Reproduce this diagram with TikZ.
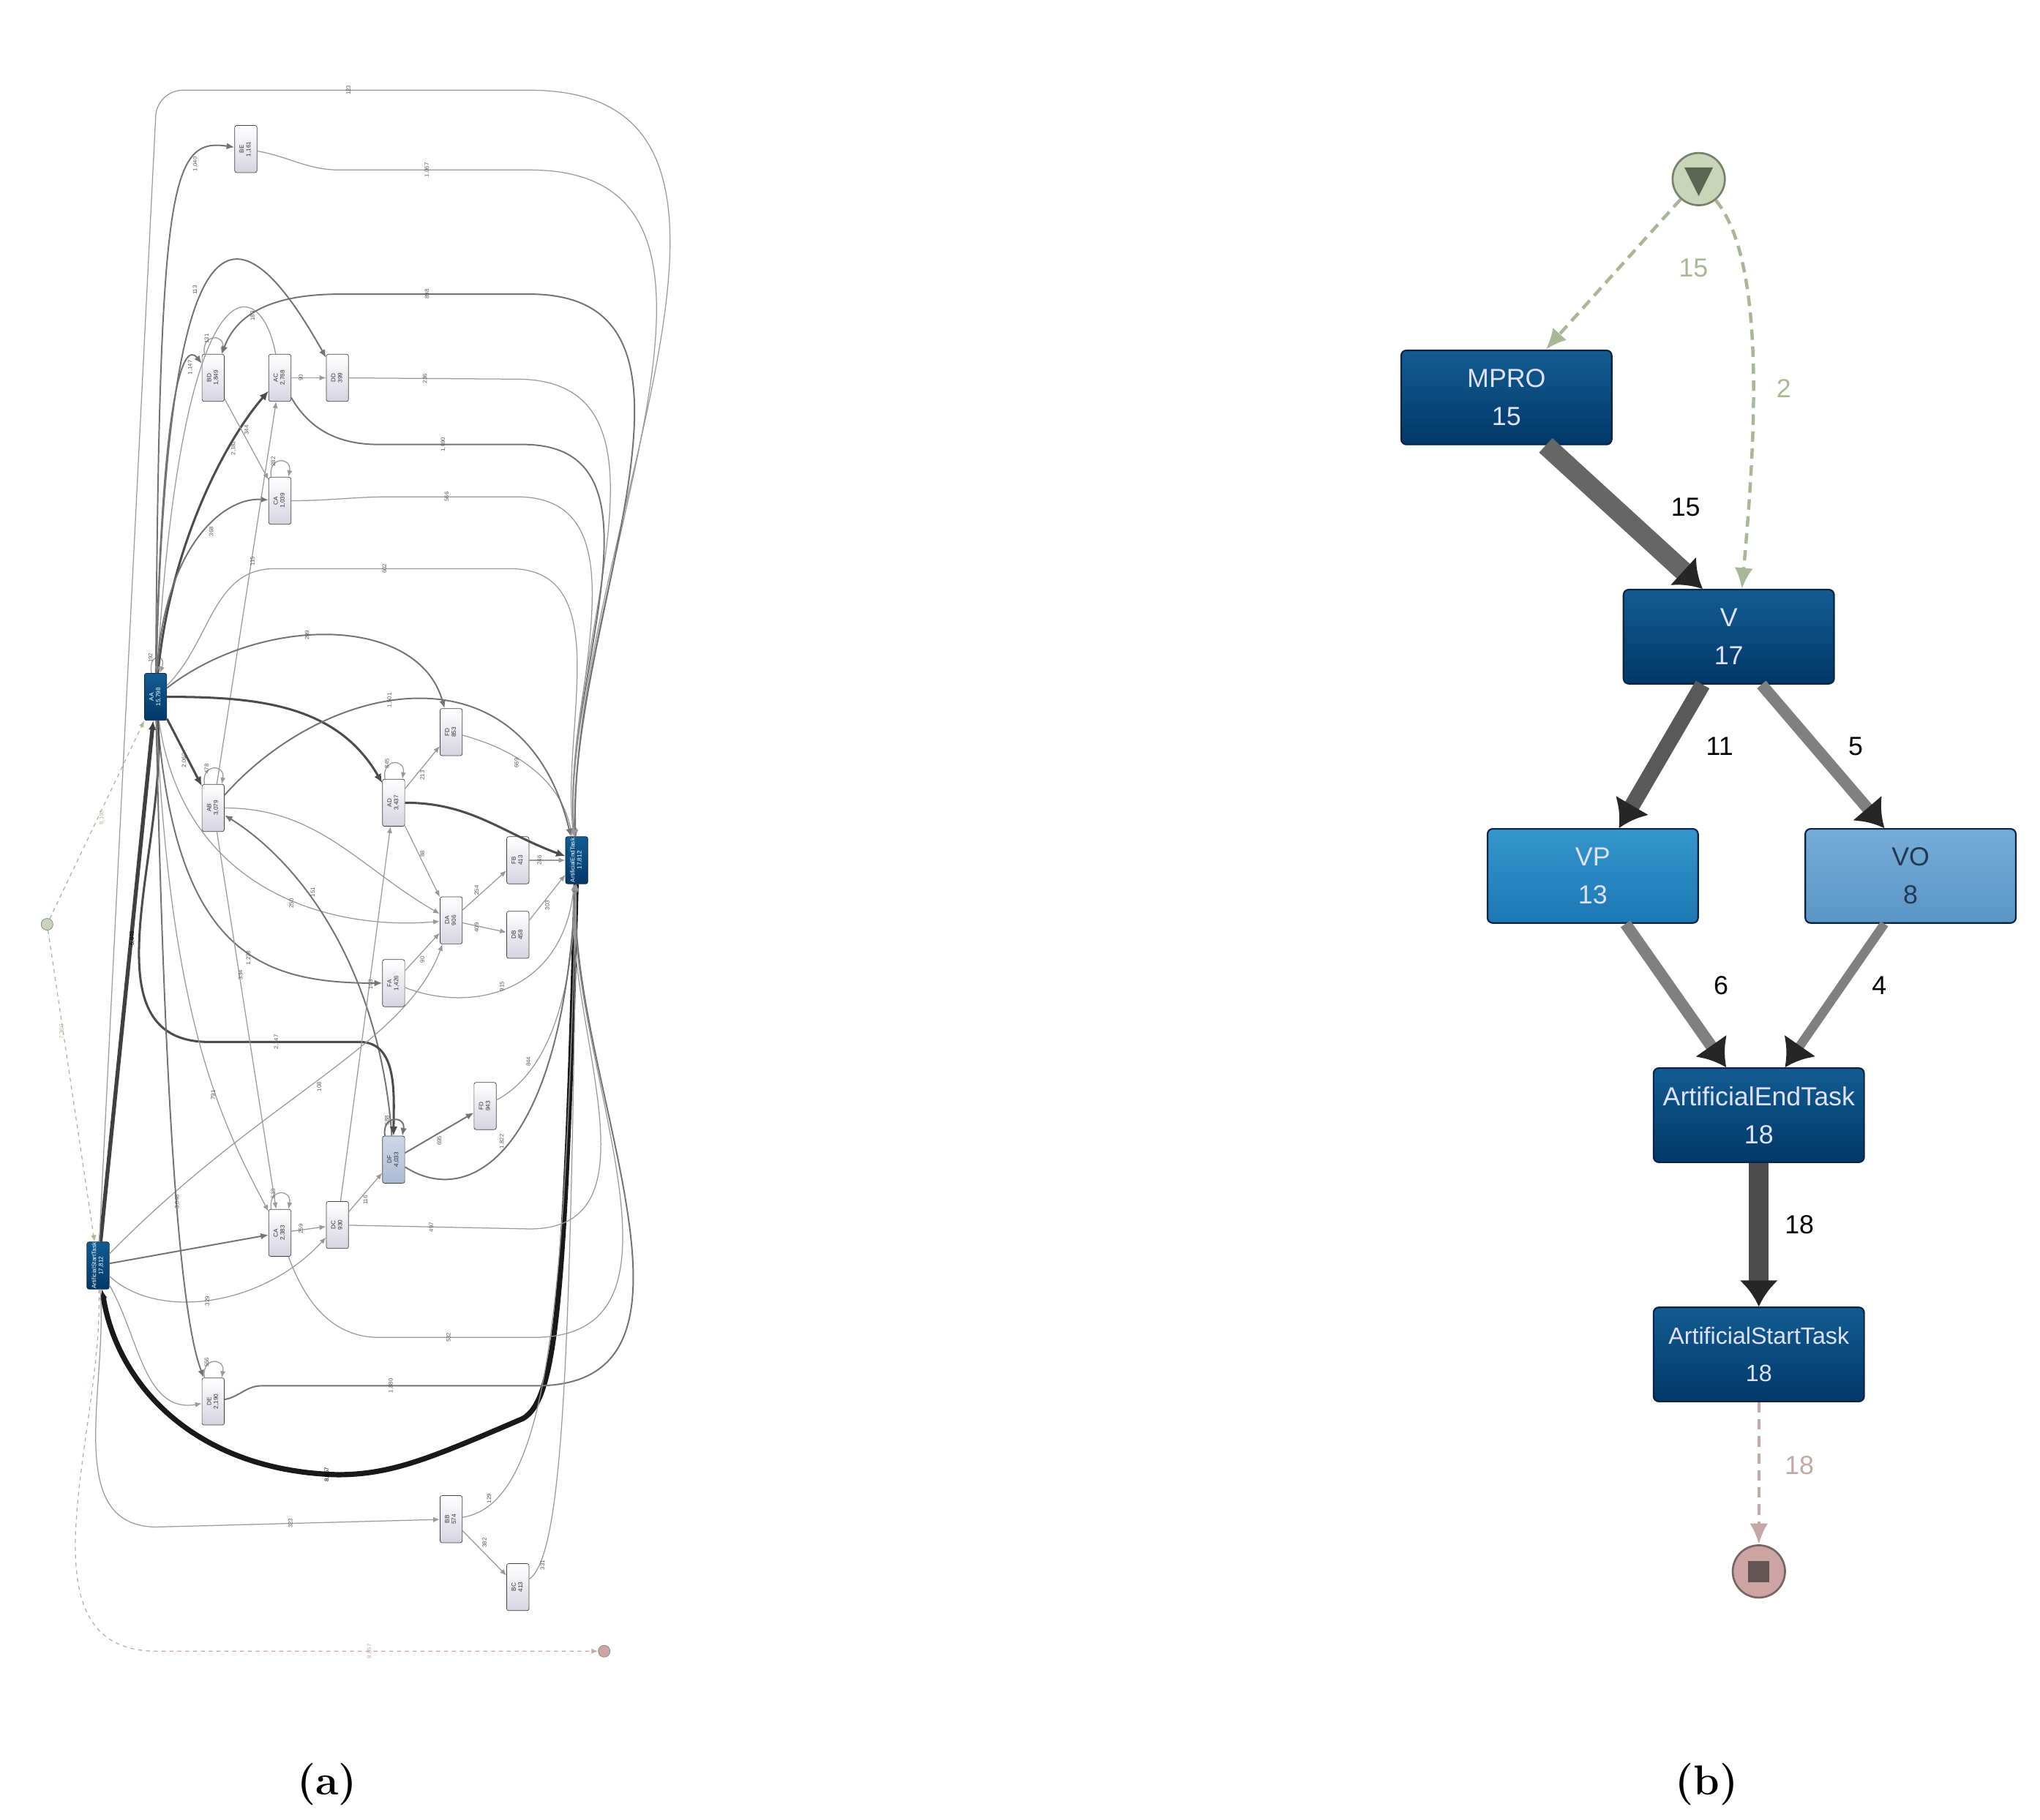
\documentclass[tikz,border=0pt]{standalone}
\usepackage{fontspec}
\newfontfamily\sansf{Liberation Sans}
\usetikzlibrary{arrows.meta,positioning,calc}
\definecolor{bluetop}{RGB}{18,92,146}
\definecolor{bluebot}{RGB}{2,56,104}
\definecolor{blueedge}{RGB}{10,35,65}
\definecolor{vptop}{RGB}{52,150,205}
\definecolor{vpbot}{RGB}{28,120,180}
\definecolor{votop}{RGB}{118,172,215}
\definecolor{vobot}{RGB}{90,150,198}
\definecolor{greenst}{RGB}{168,184,150}
\definecolor{greenfill}{RGB}{202,212,184}
\definecolor{pinkst}{RGB}{196,168,164}
\definecolor{pinkfill}{RGB}{204,164,164}
\definecolor{boxbot}{RGB}{214,211,224}
\definecolor{dfblue}{RGB}{172,188,214}
\newcommand{\actxt}[2]{\rotatebox{90}{\begin{tabular}{@{}c@{}}#1\\#2\end{tabular}}}
\tikzset{
  act/.style={draw=black!75, rounded corners=1.5pt, top color=white, bottom color=boxbot,
    minimum width=17, minimum height=36, inner sep=0, text=black!80,
    font=\sansf\fontsize{4.6}{5.2}\selectfont},
  art/.style={act, top color=bluetop, bottom color=bluebot, draw=blueedge, text=white},
  ea/.style={draw=black!40, line width=0.7, -{Latex[length=5,width=4]}},
  eb/.style={draw=black!55, line width=1.1, -{Latex[length=6,width=5]}},
  ec/.style={draw=black!70, line width=1.7, -{Latex[length=7,width=6]}},
  lbl/.style={rotate=90, font=\sansf\fontsize{4.4}{5}\selectfont, text=black!65, inner sep=1},
  task/.style={draw=blueedge, line width=1.2, rounded corners=4, top color=bluetop, bottom color=bluebot,
    minimum width=161, minimum height=72, align=center, text=white!88!blue,
    font=\sansf\fontsize{20}{29}\selectfont},
  flow/.style={draw=black!65, -{Latex[length=20,width=30,color=black!85]}},
  dflow/.style={line width=2.5, dash pattern=on 8pt off 5pt, -{Latex[length=16,width=14]}},
  num/.style={font=\sansf\fontsize{20}{24}\selectfont},
  subcap/.style={font=\fontsize{32}{36}\selectfont\bfseries}
}
\begin{document}
\begin{tikzpicture}[x=1pt,y=1pt]
\useasboundingbox (0,0) rectangle (1560,-1392);

%%%%% (a) process map
\node[act] (be) at (188,-114) {\actxt{BE}{1,161}};
\node[act] (bd) at (163,-289) {\actxt{BD}{1,849}};
\node[act] (ac) at (214,-289) {\actxt{AC}{2,768}};
\node[act] (dd) at (258,-289) {\actxt{DD}{399}};
\node[act] (ca) at (214,-383) {\actxt{CA}{1,039}};
\node[art] (aa) at (119,-533) {\actxt{AA}{15,798}};
\node[act] (ab) at (163,-618) {\actxt{AB}{3,079}};
\node[act] (ad) at (301,-614) {\actxt{AD}{3,437}};
\node[act] (fd) at (345,-560) {\actxt{FD}{853}};
\node[art] (aet) at (441,-658) {\actxt{ArtificialEndTask}{17,812}};
\node[act] (fb) at (396,-658) {\actxt{FB}{413}};
\node[act] (da) at (345,-704) {\actxt{DA}{906}};
\node[act] (db) at (396,-715) {\actxt{DB}{458}};
\node[act] (fa) at (301,-752) {\actxt{FA}{1,426}};
\node[act] (fc) at (371,-846) {\actxt{FD}{943}};
\node[act, top color=dfblue!60, bottom color=dfblue] (df) at (301,-887) {\actxt{DF}{4,033}};
\node[act] (cb) at (214,-943) {\actxt{CA}{2,383}};
\node[act] (dc) at (258,-937) {\actxt{DC}{930}};
\node[art] (ast) at (75,-968) {\actxt{ArtificialStartTask}{17,812}};
\node[act] (de) at (163,-1072) {\actxt{DE}{2,190}};
\node[act] (bb) at (345,-1162) {\actxt{BB}{574}};
\node[act] (bc) at (396,-1214) {\actxt{BC}{413}};
\node[circle, draw=black!50, fill=greenfill, minimum size=9, inner sep=0] (sa) at (36,-707) {};
\node[circle, draw=black!50, fill=pinkfill, minimum size=9, inner sep=0] (ea) at (462,-1263) {};

% start and end
\draw[ea, draw=greenst, dashed] (sa) -- (aa) node[lbl, pos=.55, xshift=-6, text=greenst]{8,192};
\draw[ea, draw=greenst, dashed] (sa) -- (ast) node[lbl, pos=.3, xshift=-6, text=greenst]{7,360};
\draw[ea, draw=pinkst, dashed] (ast) to[out=-88,in=180] (120,-1263) -- (ea) node[lbl, midway, yshift=6, text=pinkst]{8,857};
\draw[ec, line width=3, draw=black!75] (ast) -- (aa) node[lbl, pos=.6, xshift=-7, text=black]{5,849};
\draw[ec, line width=4, draw=black!90] (aet) .. controls (432,-1000) and (425,-1070) .. (400,-1085)
  .. controls (330,-1115) and (300,-1128) .. (258,-1128) node[lbl, yshift=8, text=black]{8,857}
  .. controls (150,-1125) and (90,-1060) .. (ast);
\draw[ea] (ast) -- (119,-90) to[out=90,in=180] (140,-69) -- (405,-69) node[lbl, midway, yshift=6]{123} to[out=0,in=92] (aet);

% upper block
\draw[ea] (aa.100) .. controls +(100:16) and +(70:16) .. (aa.80) node[lbl, pos=.5, yshift=5]{192};
\draw[eb] (aa) .. controls (122,-140) and (130,-105) .. (be) node[lbl, pos=.75, xshift=-6]{1,040};
\draw[ea] (be) to[out=-10,in=180] (260,-130) -- (405,-130) node[lbl, midway, yshift=6]{1,067} to[out=0,in=92] (aet);
\draw[eb] (aa) .. controls (124,-300) and (140,-260) .. (bd) node[lbl, pos=.8, xshift=-6]{1,147};
\draw[ea] (bd.110) .. controls +(100:16) and +(80:16) .. (bd.70) node[lbl, pos=.5, yshift=5]{131};
\draw[ec] (aa) .. controls (130,-420) and (170,-340) .. (ac) node[lbl, pos=.75, xshift=-6]{2,182};
\draw[ea] (ac) -- (dd) node[lbl, midway, yshift=6]{90};
\draw[ea] (dd) -- (395,-290) node[lbl, midway, yshift=6]{236} to[out=0,in=95] (aet);
\draw[eb] (ac) to[out=-60,in=180] (290,-340) -- (400,-340) node[lbl, midway, yshift=6]{1,690} to[out=0,in=95] (aet);
\draw[eb] (aa) .. controls (128,-150) and (180,-150) .. (dd) node[lbl, pos=.45, yshift=6]{113};
\draw[ea] (ac) .. controls (200,-210) and (140,-190) .. (aa) node[lbl, pos=.2, yshift=6]{189};
\draw[eb] (aet) to[out=93,in=0] (405,-225) -- (260,-225) node[lbl, midway, yshift=6]{898} to[out=180,in=70] (bd);
\draw[ea] (bd) -- (ca) node[lbl, midway, xshift=7]{344};
\draw[ea] (ca.110) .. controls +(100:16) and +(80:16) .. (ca.70) node[lbl, pos=.5, yshift=5]{282};
\draw[eb] (aa) .. controls (125,-420) and (170,-380) .. (ca) node[lbl, pos=.6, xshift=-6]{368};
\draw[ea] (ab) -- (ac) node[lbl, pos=.6, xshift=-5]{115};
\draw[ea] (ca) to[out=0,in=180] (300,-380) -- (395,-380) node[lbl, midway, yshift=6]{566} to[out=0,in=95] (aet);
\draw[ea] (aa) to[out=45,in=180] (210,-435) -- (390,-435) node[lbl, midway, yshift=6]{602} to[out=0,in=97] (aet);

% middle block
\draw[eb] (aa) .. controls (200,-470) and (320,-470) .. (fd) node[lbl, pos=.45, yshift=6]{209};
\draw[ea] (fd) .. controls (400,-575) and (430,-600) .. (aet) node[lbl, pos=.4, yshift=6]{669};
\draw[ec] (aa) to[out=0,in=120] (ad) node[lbl, pos=.45, yshift=6]{2,238};
\draw[ec] (aa) -- (ab) node[lbl, midway, xshift=-6]{2,060};
\draw[ea] (ab.110) .. controls +(100:16) and +(80:16) .. (ab.70) node[lbl, pos=.5, yshift=5]{478};
\draw[ea] (ad.110) .. controls +(100:16) and +(80:16) .. (ad.70) node[lbl, pos=.5, yshift=5]{845};
\draw[eb] (ab) .. controls (250,-520) and (400,-490) .. (aet) node[lbl, pos=.45, yshift=6]{1,501};
\draw[ec] (ad) to[out=0,in=160] (aet) node[lbl, pos=.45, yshift=6]{1,846};
\draw[ea] (ad) -- (fd) node[lbl, midway, xshift=-6]{213};
\draw[ea] (ad) -- (da) node[lbl, midway, xshift=6]{88};
\draw[ea] (ab) to[out=0,in=150] (da) node[lbl, pos=.5, yshift=6]{55};
\draw[ea] (da) -- (fb) node[lbl, midway, yshift=6]{254};
\draw[ea] (da) -- (db) node[lbl, midway, yshift=6]{409};
\draw[ea] (fb) -- (aet) node[lbl, midway, yshift=6]{246};
\draw[ea] (db) -- (aet) node[lbl, midway, xshift=-6]{303};
\draw[ea] (aa) .. controls (140,-680) and (250,-712) .. (da) node[lbl, pos=.6, yshift=6]{250};
\draw[eb] (df) .. controls (290,-740) and (230,-660) .. (ab) node[lbl, pos=.6, xshift=6]{151};
\draw[eb] (aa) .. controls (135,-730) and (200,-752) .. (fa) node[lbl, pos=.6, yshift=6]{1,278};
\draw[ea] (fa) -- (da) node[lbl, midway, xshift=-6]{90};
\draw[ea] (fa) .. controls (360,-775) and (430,-760) .. (aet) node[lbl, pos=.5, yshift=6]{915};

% lower block
\draw[ec] (aa) to[out=-85,in=180] (160,-797) -- (275,-797) node[lbl, midway, yshift=6]{2,747} to[out=0,in=90] (df);
\draw[eb] (df.110) .. controls +(100:16) and +(80:16) .. (df.70) node[lbl, pos=.5, yshift=5]{588};
\draw[eb] (df) -- (fc) node[lbl, midway, xshift=-6]{695};
\draw[ea] (fc) .. controls (420,-820) and (438,-760) .. (aet) node[lbl, pos=.3, yshift=6]{844};
\draw[eb] (df) .. controls (360,-925) and (430,-880) .. (aet) node[lbl, pos=.5, yshift=6]{1,822};
\draw[ea] (cb.110) .. controls +(100:16) and +(80:16) .. (cb.70) node[lbl, pos=.5, yshift=5]{518};
\draw[ea] (cb) -- (dc) node[lbl, midway, yshift=6]{259};
\draw[ea] (dc) -- (df) node[lbl, midway, xshift=-6]{116};
\draw[ea] (dc) -- (405,-940) node[lbl, midway, yshift=6]{497} to[out=0,in=-95] (aet);
\draw[ea] (dc) -- (ad) node[lbl, pos=.6, xshift=-6]{103};
\draw[ea] (ab) -- (cb) node[lbl, pos=.4, xshift=6]{334};
\draw[ea] (cb) to[out=-70,in=180] (290,-1023) -- (408,-1023) node[lbl, midway, yshift=6]{532} to[out=0,in=-93] (aet);
\draw[eb] (ast) -- (cb);
\draw[ea] (ast) .. controls (120,-1010) and (200,-1000) .. (dc) node[lbl, pos=.45, yshift=-6]{329};
\draw[ea] (ast) .. controls (200,-840) and (310,-800) .. (da) node[lbl, pos=.5, xshift=-6]{108};
\draw[ea] (aa) .. controls (130,-780) and (170,-860) .. (cb) node[lbl, pos=.6, xshift=-6]{791};
\draw[eb] (aa) .. controls (125,-800) and (135,-1000) .. (de) node[lbl, pos=.6, xshift=6]{3,046};
\draw[ea] (ast) to[out=-60,in=190] (de) node[lbl, pos=.5, xshift=8]{258};
\draw[ea] (de.110) .. controls +(100:16) and +(80:16) .. (de.70) node[lbl, pos=.5, yshift=5]{556};
\draw[eb] (de) to[out=10,in=180] (200,-1060) -- (410,-1060) node[lbl, midway, yshift=6]{1,880} to[out=0,in=-92] (aet);
\draw[ea] (ast) to[out=-85,in=180] (120,-1168) -- (bb) node[lbl, midway, yshift=6]{323};
\draw[ea] (bb) .. controls (420,-1150) and (432,-1000) .. (aet) node[lbl, pos=.15, yshift=6]{129};
\draw[ea] (bb) -- (bc) node[lbl, midway, xshift=8]{382};
\draw[ea] (bc) .. controls (430,-1190) and (436,-1050) .. (aet) node[lbl, pos=.15, xshift=-6]{331};

\node[subcap] (capa) at (250,-1365) {(a)};

%%%%% (b) reduced map
\node[circle, draw=greenst!70!black, line width=1.5, fill=greenfill, minimum size=40] (st) at (1299,-137) {};
\fill[greenst!55!black] (1288,-128) -- (1310,-128) -- (1299,-150) -- cycle;
\node[task] (mpro) at (1152,-304) {MPRO\\15};
\node[task] (v) at (1322,-487) {V\\17};
\node[task, top color=vptop, bottom color=vpbot] (vp) at (1218,-670) {VP\\13};
\node[task, top color=votop, bottom color=vobot, text=blueedge!90] (vo) at (1461,-670) {VO\\8};
\node[task] (aend) at (1345,-853) {ArtificialEndTask\\18};
\node[task, font=\sansf\fontsize{18}{29}\selectfont] (astart) at (1345,-1036) {ArtificialStartTask\\18};
\node[circle, draw=pinkst!60!black, line width=1.5, fill=pinkfill, minimum size=40] (en) at (1345,-1202) {};
\fill[pinkst!50!black] (1337,-1194) rectangle (1353,-1210);

\draw[dflow, greenst] (st) -- ($(mpro.north)+(30,0)$);
\draw[dflow, greenst] (st) .. controls (1350,-200) and (1343,-330) .. ($(v.north)+(10,0)$);
\draw[flow, line width=15, draw=black!60] ($(mpro.south)+(30,0)$) -- ($(v.north)+(-20,0)$);
\draw[flow, line width=12, draw=black!65] ($(v.south)+(-20,0)$) -- ($(vp.north)+(20,0)$);
\draw[flow, line width=9, draw=black!50] ($(v.south)+(25,0)$) -- ($(vo.north)+(-20,0)$);
\draw[flow, line width=9, draw=black!50] ($(vp.south)+(25,0)$) -- ($(aend.north)+(-25,0)$);
\draw[flow, line width=7, draw=black!50] ($(vo.south)+(-20,0)$) -- ($(aend.north)+(20,0)$);
\draw[flow, line width=15, draw=black!70] (aend) -- (astart);
\draw[dflow, pinkst] (astart) -- (en);

\node[num, text=greenst] (n1) at (1295,-205) {15};
\node[num, text=greenst] (n2) at (1364,-297) {2};
\node[num] (n3) at (1289,-388) {15};
\node[num] (n4) at (1315,-571) {11};
\node[num] (n5) at (1419,-571) {5};
\node[num] (n6) at (1316,-754) {6};
\node[num] (n7) at (1437,-754) {4};
\node[num] (n8) at (1376,-937) {18};
\node[num, text=pinkst] (n9) at (1376,-1121) {18};

\node[subcap] (capb) at (1305,-1365) {(b)};
\end{tikzpicture}
\end{document}
